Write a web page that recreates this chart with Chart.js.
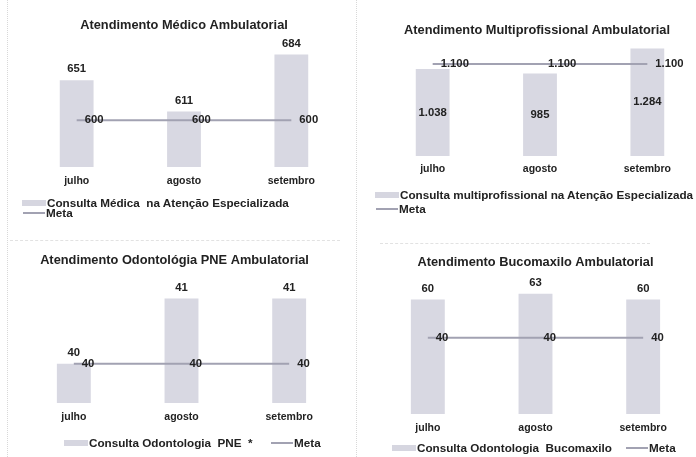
<!DOCTYPE html>
<html lang="pt-BR">
<head>
<meta charset="utf-8">
<script src="https://cdn.jsdelivr.net/npm/chart.js@4.4.1/dist/chart.umd.min.js"></script>
<style>
  html, body { margin: 0; padding: 0; background: #fff; }
  body { width: 696px; height: 457px; position: relative; overflow: hidden; font-family: 'Liberation Sans', Arial, sans-serif; }
  .box { position: absolute; }
  .leg { position: absolute; font: bold 11.7px 'Liberation Sans', Arial, sans-serif; color: #222; white-space: pre; line-height: 13px; }
  .sw { display: inline-block; vertical-align: middle; width: 24px; height: 6px; background: #d6d6e0; margin-right: 1px; position: relative; top: -1px; }
  .ln { display: inline-block; vertical-align: middle; width: 22px; height: 2px; background: #a2a2b2; margin-right: 1px; position: relative; top: -1px; }
  .vline { position: absolute; border-left: 1px dotted #d8d8d8; }
  .hline { position: absolute; border-top: 1px dashed #e2e2e2; }
</style>
</head>
<body>

<div class="vline" style="left:7px; top:0; height:457px;"></div>
<div class="vline" style="left:356px; top:0; height:457px;"></div>
<div class="hline" style="left:10px; top:240px; width:330px;"></div>
<div class="hline" style="left:380px; top:243px; width:270px;"></div>

<div class="box" style="left:0; top:0;"><canvas id="chartMedico" width="350" height="201"></canvas></div>
<div class="box" style="left:350px; top:0;"><canvas id="chartMulti" width="352" height="190"></canvas></div>
<div class="box" style="left:0; top:230px;"><canvas id="chartPne" width="350" height="209"></canvas></div>
<div class="box" style="left:350px; top:230px;"><canvas id="chartBuco" width="352" height="215"></canvas></div>

<div class="leg" style="left:22px; top:196px;"><span class="sw"></span>Consulta Médica  na Atenção Especializada</div>
<div class="leg" style="left:23px; top:206px;"><span class="ln"></span>Meta</div>

<div class="leg" style="left:375px; top:188px;"><span class="sw"></span>Consulta multiprofissional na Atenção Especializada</div>
<div class="leg" style="left:376px; top:202px;"><span class="ln"></span>Meta</div>

<div class="leg" style="left:64px; top:436px;"><span class="sw"></span>Consulta Odontologia  PNE  *</div>
<div class="leg" style="left:271px; top:436px;"><span class="ln"></span>Meta</div>

<div class="leg" style="left:392px; top:441px;"><span class="sw"></span>Consulta Odontologia  Bucomaxilo</div>
<div class="leg" style="left:626px; top:441px;"><span class="ln"></span>Meta</div>

<script>
// Data
const meses = ['julho', 'agosto', 'setembro'];

const medicoValores = [651, 611, 684];
const medicoMeta = [600, 600, 600];

const multiValores = [1038, 985, 1284];
const multiMeta = [1100, 1100, 1100];

const pneValores = [40, 41, 41];
const pneMeta = [40, 40, 40];

const bucoValores = [60, 63, 60];
const bucoMeta = [40, 40, 40];

const FONT = "'Liberation Sans', Arial, sans-serif";
const BAR_COLOR = '#d8d8e2';
const LINE_COLOR = '#a2a2b2';

// thousands separator like pt-BR (1.100)
function fmt(v) {
    return String(v).replace(/\B(?=(\d{3})+(?!\d))/g, '.');
}

// draws the value labels next to bars / line points
const valueLabels = {
    id: 'valueLabels',
    afterDatasetsDraw(chart) {
        const ctx = chart.ctx;
        ctx.save();
        ctx.font = 'bold 11.3px ' + FONT;
        ctx.fillStyle = '#222';
        ctx.textBaseline = 'middle';
        chart.data.datasets.forEach((ds, i) => {
            const meta = chart.getDatasetMeta(i);
            meta.data.forEach((el, j) => {
                const txt = fmt(ds.data[j]);
                if (ds.labelPos === 'top') {
                    ctx.textAlign = 'center';
                    ctx.fillText(txt, el.x, el.y - 11);
                } else if (ds.labelPos === 'center') {
                    ctx.textAlign = 'center';
                    ctx.fillText(txt, el.x, (el.y + el.base) / 2);
                } else {
                    ctx.textAlign = 'left';
                    ctx.fillText(txt, el.x + 8, el.y);
                }
            });
        });
        ctx.restore();
    }
};

function makeChart(id, values, meta, barLabel, yMin, yMax, pad, titleText, titlePad, tickPad, titleShift) {
    const ctx = document.getElementById(id).getContext('2d');
    // nudge the title sideways, it is not centred on the plot in the original
    const shiftTitle = {
        id: 'shiftTitle',
        afterLayout(chart) {
            if (chart.titleBlock) {
                chart.titleBlock.left += titleShift;
                chart.titleBlock.right += titleShift;
            }
        }
    };
    return new Chart(ctx, {
        type: 'bar',
        data: {
            labels: meses,
            datasets: [{
                type: 'line',
                label: 'Meta',
                data: meta,
                borderColor: LINE_COLOR,
                borderWidth: 2,
                pointRadius: 0,
                fill: false,
                order: 0,
                labelPos: 'right'
            }, {
                type: 'bar',
                label: 'Consulta',
                data: values,
                backgroundColor: BAR_COLOR,
                borderWidth: 0,
                barPercentage: 0.315,
                categoryPercentage: 1,
                order: 1,
                labelPos: barLabel
            }]
        },
        options: {
            responsive: false,
            animation: false,
            layout: { padding: pad },
            plugins: {
                legend: { display: false },
                tooltip: { enabled: false },
                title: {
                    display: true,
                    text: titleText,
                    color: '#222',
                    font: { family: FONT, size: 12.8, weight: 'bold' },
                    padding: titlePad
                }
            },
            scales: {
                x: {
                    grid: { display: false, drawTicks: false },
                    border: { display: false },
                    ticks: { color: '#222', padding: tickPad, font: { family: FONT, size: 10.5, weight: 'bold' } }
                },
                y: {
                    display: false,
                    min: yMin,
                    max: yMax
                }
            }
        },
        plugins: [valueLabels, shiftTitle]
    });
}

makeChart('chartMedico', medicoValores, medicoMeta, 'top', 540, 702,
    { left: 23, right: 5, top: 0, bottom: 5.4 },
    'Atendimento Médico Ambulatorial', { top: 17.5, bottom: 7.6 }, 8, 0);

makeChart('chartMulti', multiValores, multiMeta, 'center', 0, 1320,
    { left: 29, right: 1, top: 0, bottom: 7.4 },
    'Atendimento Multiprofissional Ambulatorial', { top: 22.3, bottom: 7.8 }, 7, -3);

makeChart('chartPne', pneValores, pneMeta, 'top', 39.4, 41.2,
    { left: 20, right: 7, top: 0, bottom: 7.4 },
    'Atendimento Odontológia PNE Ambulatorial', { top: 22.3, bottom: 17.8 }, 8, -7);

makeChart('chartBuco', bucoValores, bucoMeta, 'top', 0, 67.4,
    { left: 24, right: 5, top: 0, bottom: 2.4 },
    'Atendimento Bucomaxilo Ambulatorial', { top: 24.3, bottom: 15.8 }, 8, 0);
</script>
</body>
</html>
